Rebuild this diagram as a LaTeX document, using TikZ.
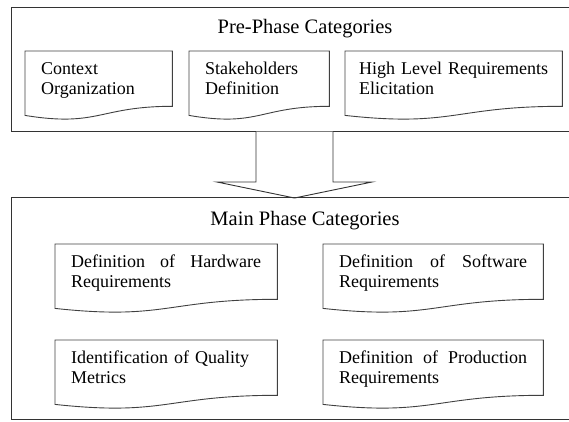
\documentclass[tikz,border=0pt]{standalone}
\usepackage{fontspec}
\setmainfont{Liberation Serif}
\usetikzlibrary{calc}

\begin{document}
\begin{tikzpicture}[x=1pt,y=-1pt,
  frame/.style={draw=black!80,line width=0.9pt},
  title/.style={anchor=base,font=\fontsize{20.5}{24}\selectfont},
  doc/.style={anchor=north west,inner xsep=16pt,inner ysep=9.5pt,font=\fontsize{18}{20}\selectfont},
  docline/.style={draw=black!75,line width=0.9pt}]
  \clip (0,0) rectangle (569,421);

  % pre phase
  \draw[frame] (11,7) rectangle (600,131.5);
  \node[title] (pre) at (305,33) {Pre-Phase Categories};

  \node[doc,text width=115pt,align=left] (ctx) at (25,51) {\strut Context\\Organization};
  \node[doc,text width=108pt,align=left] (stk) at (189,51) {\strut Stakeholders\\Definition};
  \node[doc,inner xsep=14pt,text width=189pt,align=left] (hlr) at (345,51) {\strut High Level Requirements\\Elicitation};

  % block arrow
  \draw[frame,fill=white] (256,131.5) -- (256,182) -- (217,182) -- (294.5,198)
    -- (372,182) -- (333,182) -- (333,131.5);

  % main phase
  \draw[frame] (11,197.5) rectangle (600,419.5);
  \node[title] (main) at (305,225) {Main Phase Categories};

  \node[doc,text width=190pt,align=justify] (hw) at (55,244) {\strut Definition of Hardware\linebreak Requirements};
  \node[doc,text width=188pt,align=justify] (sw) at (323,244) {\strut Definition of Software\linebreak Requirements};
  \node[doc,text width=190pt,align=left] (qm) at (55,340) {\strut Identification of Quality\\Metrics};
  \node[doc,text width=188pt,align=justify] (pr) at (323,340) {\strut Definition of Production\linebreak Requirements};

  \foreach \nm in {ctx,stk,hlr,hw,sw,qm,pr}
    \draw[docline] (\nm.north west) -- (\nm.north east) -- ($(\nm.north east)+(0pt,-55.3pt)$)
      .. controls ($(\nm.north)+(0pt,-55.3pt)$) and ($(\nm.north)+(0pt,-76.4pt)$)
      .. ($(\nm.north west)+(0pt,-64.4pt)$) -- cycle;
\end{tikzpicture}
\end{document}
